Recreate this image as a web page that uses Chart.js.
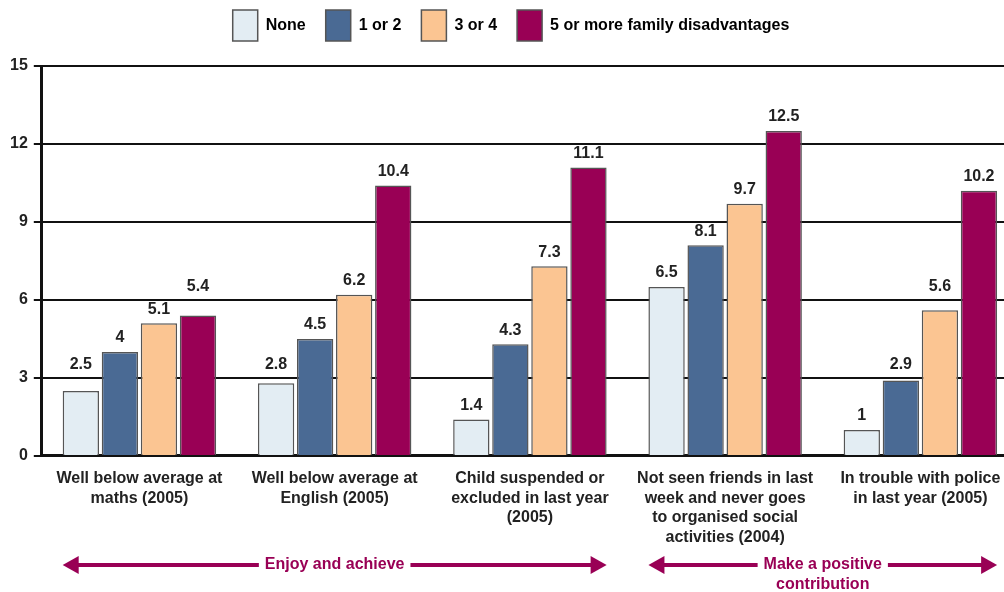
<!DOCTYPE html>
<html>
<head>
<meta charset="utf-8">
<script src="https://cdn.jsdelivr.net/npm/chart.js@4/dist/chart.umd.min.js"></script>
<style>
  html, body { margin:0; padding:0; background:#fff; overflow:hidden; }
  #wrap { position:relative; width:1018px; height:592px; }
</style>
</head>
<body>
<div id="wrap"><canvas id="chart"></canvas></div>
<script>
// ── Data ──────────────────────────────────────────────────────────────────────
const CATEGORIES = [
  ['Well below average at', 'maths (2005)'],
  ['Well below average at', 'English (2005)'],
  ['Child suspended or', 'excluded in last year', '(2005)'],
  ['Not seen friends in last', 'week and never goes', 'to organised social', 'activities (2004)'],
  ['In trouble with police', 'in last year (2005)'],
];
const SERIES_NAMES = ['None', '1 or 2', '3 or 4', '5 or more family disadvantages'];
const NONE_VALUES   = [2.5, 2.8, 1.4, 6.5, 1];
const ONE_TWO       = [4, 4.5, 4.3, 8.1, 2.9];
const THREE_FOUR    = [5.1, 6.2, 7.3, 9.7, 5.6];
const FIVE_PLUS     = [5.4, 10.4, 11.1, 12.5, 10.2];
const Y_TICKS       = [0, 3, 6, 9, 12, 15];
const GROUPS = [
  { label: ['Enjoy and achieve'], from: 0, to: 2 },
  { label: ['Make a positive', 'contribution'], from: 3, to: 4 },
];

const COLORS = ['#e3edf3', '#4a6a94', '#fbc592', '#990055'];
const FONT = "'Liberation Sans Narrow', 'Liberation Sans', Arial, sans-serif";
const ACCENT = '#990055';

// ── Plugins ───────────────────────────────────────────────────────────────────
// extra gap between legend and plot
const legendGap = {
  id: 'legendGap',
  beforeInit(chart) {
    const fit = chart.legend.fit;
    chart.legend.fit = function () { fit.call(this); this.height += 15; };
  }
};

// value above each bar, lifted clear of a gridline when they would touch
const valueLabels = {
  id: 'valueLabels',
  afterDatasetsDraw(chart) {
    const ctx = chart.ctx;
    const yScale = chart.scales.y;
    const grid = Y_TICKS.map(v => yScale.getPixelForValue(v));
    ctx.save();
    ctx.font = `bold 16px ${FONT}`;
    ctx.fillStyle = '#222';
    ctx.textAlign = 'center';
    ctx.textBaseline = 'bottom';
    chart.data.datasets.forEach((ds, i) => {
      chart.getDatasetMeta(i).data.forEach((bar, j) => {
        let bottom = bar.y - 6;
        const hit = grid.find(g => g >= bottom - 16 && g <= bar.y);
        if (hit !== undefined) bottom = hit - 5;
        ctx.fillText(String(ds.data[j]), bar.x, bottom);
      });
    });
    ctx.restore();
  }
};

const groupArrows = {
  id: 'groupArrows',
  afterDraw(chart) {
    const ctx = chart.ctx;
    const first = chart.getDatasetMeta(0).data;
    const last = chart.getDatasetMeta(chart.data.datasets.length - 1).data;
    const y = 565;
    ctx.save();
    ctx.font = `bold 16px ${FONT}`;
    ctx.textAlign = 'center';
    ctx.textBaseline = 'middle';
    ctx.fillStyle = ACCENT;
    ctx.strokeStyle = ACCENT;
    ctx.lineWidth = 4;
    GROUPS.forEach(g => {
      const x1 = first[g.from].x - first[g.from].width / 2;
      const x2 = last[g.to].x + last[g.to].width / 2;
      const mid = (x1 + x2) / 2;
      const tw = Math.max(...g.label.map(t => ctx.measureText(t).width)) + 12;
      // shafts
      ctx.beginPath();
      ctx.moveTo(x1 + 10, y); ctx.lineTo(mid - tw / 2, y);
      ctx.moveTo(mid + tw / 2, y); ctx.lineTo(x2 - 10, y);
      ctx.stroke();
      // heads
      [[x1, 1], [x2, -1]].forEach(([x, d]) => {
        ctx.beginPath();
        ctx.moveTo(x, y);
        ctx.lineTo(x + d * 16, y - 9);
        ctx.lineTo(x + d * 16, y + 9);
        ctx.closePath();
        ctx.fill();
      });
      g.label.forEach((t, k) => ctx.fillText(t, mid, y + k * 20));
    });
    ctx.restore();
  }
};

// ── Chart ─────────────────────────────────────────────────────────────────────
const seriesData = [NONE_VALUES, ONE_TWO, THREE_FOUR, FIVE_PLUS];

new Chart(document.getElementById('chart'), {
  type: 'bar',
  data: {
    labels: CATEGORIES,
    datasets: SERIES_NAMES.map((name, i) => ({
      label: name,
      data: seriesData[i],
      backgroundColor: COLORS[i],
      borderColor: '#555',
      borderWidth: 1.5,
      barPercentage: 0.93,
      categoryPercentage: 0.8,
    })),
  },
  options: {
    responsive: true, maintainAspectRatio: false, animation: false,
    layout: { padding: { left: 4, right: 0, top: -10, bottom: 32 } },
    plugins: {
      tooltip: { enabled: false },
      legend: {
        position: 'top',
        labels: {
          boxWidth: 25, boxHeight: 31, padding: 20,
          color: '#222',
          font: { family: FONT, size: 16, weight: 'bold' },
          generateLabels: chart => SERIES_NAMES.map((n, i) => ({
            text: n, fillStyle: COLORS[i], strokeStyle: '#555', lineWidth: 1.5, datasetIndex: i,
          })),
        },
      },
    },
    scales: {
      x: {
        grid: { display: false, drawTicks: false },
        border: { color: '#111', width: 3 },
        ticks: {
          color: '#222', padding: 13, maxRotation: 0, autoSkip: false,
          font: { family: FONT, size: 16, weight: 'bold', lineHeight: 1.22 },
        },
      },
      y: {
        min: 0, max: 15,
        afterBuildTicks: s => { s.ticks = Y_TICKS.map(v => ({ value: v })); },
        grid: { color: '#111', lineWidth: 2, tickLength: 8 },
        border: { color: '#111', width: 3 },
        ticks: {
          color: '#222', padding: 6,
          font: { family: FONT, size: 16, weight: 'bold' },
        },
      },
    },
  },
  plugins: [legendGap, valueLabels, groupArrows],
});
</script>
</body>
</html>
